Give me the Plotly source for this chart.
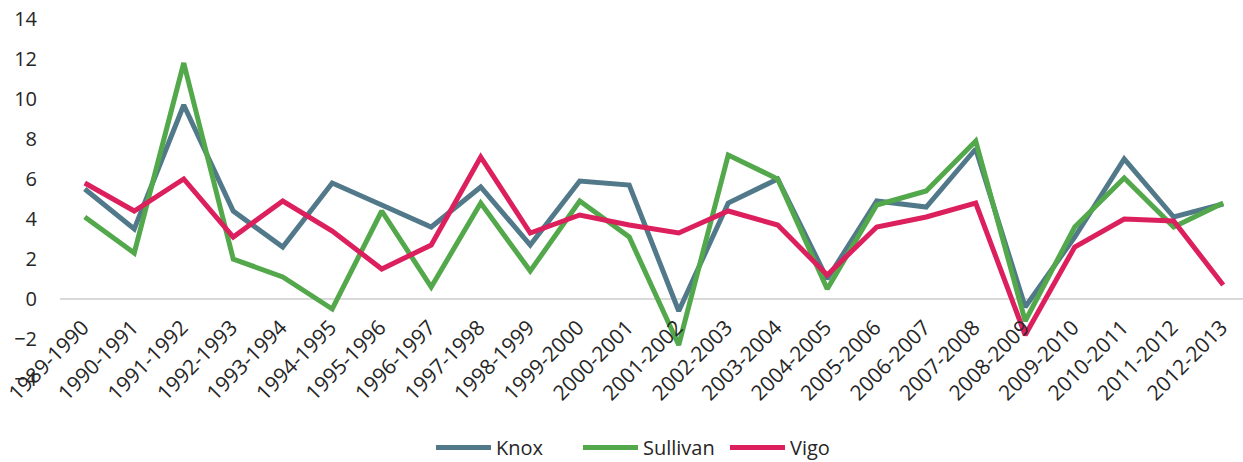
import plotly.graph_objects as go

categories = ["1989-1990", "1990-1991", "1991-1992", "1992-1993", "1993-1994", "1994-1995",
              "1995-1996", "1996-1997", "1997-1998", "1998-1999", "1999-2000", "2000-2001",
              "2001-2002", "2002-2003", "2003-2004", "2004-2005", "2005-2006", "2006-2007",
              "2007-2008", "2008-2009", "2009-2010", "2010-2011", "2011-2012", "2012-2013"]

knox = [5.5, 3.5, 9.7, 4.4, 2.6, 5.8, 4.7, 3.6, 5.6, 2.7, 5.9, 5.7,
        -0.6, 4.8, 6.0, 1.0, 4.9, 4.6, 7.5, -0.4, 3.1, 7.0, 4.1, 4.75]
sullivan = [4.1, 2.3, 11.8, 2.0, 1.1, -0.5, 4.4, 0.6, 4.8, 1.4, 4.9, 3.1,
            -2.3, 7.2, 6.0, 0.5, 4.7, 5.4, 7.9, -1.1, 3.6, 6.05, 3.6, 4.8]
vigo = [5.8, 4.4, 6.0, 3.1, 4.9, 3.4, 1.5, 2.7, 7.1, 3.3, 4.2, 3.7,
        3.3, 4.4, 3.7, 1.2, 3.6, 4.1, 4.8, -1.8, 2.6, 4.0, 3.9, 0.7]

y_ticks = [-4, -2, 0, 2, 4, 6, 8, 10, 12, 14]

series = [("Knox", knox, "#51798A"), ("Sullivan", sullivan, "#52A84A"), ("Vigo", vigo, "#DC1F5D")]

fig = go.Figure()
for name, vals, color in series:
    fig.add_trace(go.Scatter(x=list(range(len(categories))), y=vals, name=name, mode="lines",
                             line=dict(color=color, width=5)))

font_family = "Open Sans"
text_color = "#262626"
fig.update_layout(
    width=1243, height=462,
    margin=dict(l=60, r=0, t=19, b=83, autoexpand=False),
    paper_bgcolor="white", plot_bgcolor="white",
    font=dict(family=font_family, size=20, color=text_color),
    showlegend=True,
    legend=dict(orientation="h", x=0.3136, xanchor="left", y=-0.19, yanchor="middle",
                itemwidth=55, entrywidth=77, entrywidthmode="pixels",
                font=dict(size=20, color=text_color), bgcolor="rgba(0,0,0,0)"),
    xaxis=dict(
        tickmode="array", tickvals=list(range(len(categories))), ticktext=categories,
        tickangle=-45, range=[-0.5, 23.4], showgrid=False, zeroline=False, showline=False,
        anchor="free", position=4 / 18, ticks="", automargin=False,
        ticklabelshift=-2, ticklabelstandoff=11,
        tickfont=dict(size=21, color=text_color),
    ),
    yaxis=dict(
        range=[-4, 14], tickvals=y_ticks, showgrid=False, zeroline=True,
        zerolinecolor="#D9D9D9", zerolinewidth=2, showline=False, ticks="",
        automargin=False, ticklabelstandoff=22, tickfont=dict(size=20, color=text_color),
    ),
)

fig.write_html("out.html", config={"displayModeBar": False},
               post_script="document.body.style.margin='0';document.body.style.overflow='hidden';")
